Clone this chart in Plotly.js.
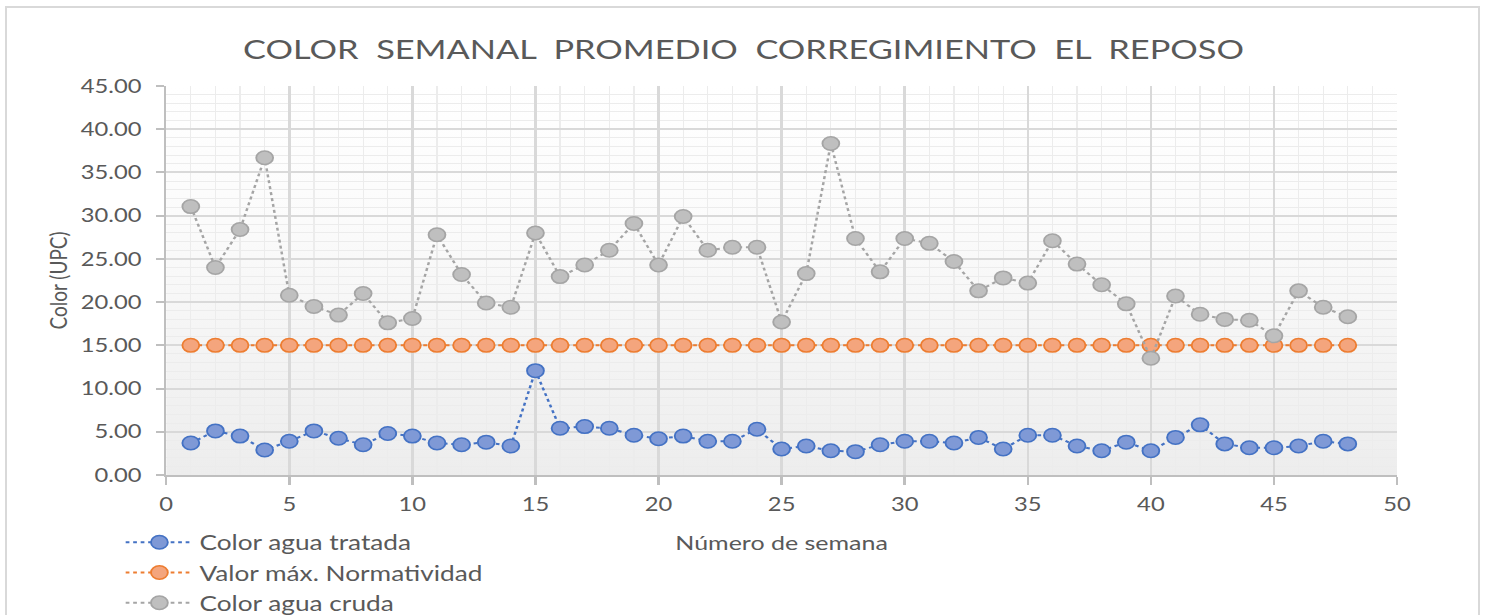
<!DOCTYPE html>
<html>
<head>
<meta charset="utf-8">
<script src="https://cdn.plot.ly/plotly-3.0.1.min.js"></script>
<style>
  html, body { margin: 0; padding: 0; background: #ffffff; }
  #wrap { position: relative; width: 1487px; height: 615px; overflow: hidden; }
  #chart { width: 1190px; height: 615px; transform: scale(1.2496, 1); transform-origin: 0 0; }
  #frame { position: absolute; left: 5px; top: 6px; width: 1475px; height: 640px;
           border: 2px solid #d9d9d9; pointer-events: none; box-sizing: border-box; }
</style>
</head>
<body>
<div id="wrap">
  <div id="chart"></div>
  <div id="frame"></div>
</div>
<script>
const semanas = [1,2,3,4,5,6,7,8,9,10,11,12,13,14,15,16,17,18,19,20,21,22,23,24,25,26,27,28,29,30,31,32,33,34,35,36,37,38,39,40,41,42,43,44,45,46,47,48];

const colorTratada = [3.7,5.1,4.5,2.9,3.9,5.1,4.25,3.5,4.8,4.5,3.7,3.5,3.8,3.35,12.07,
  5.4,5.6,5.4,4.6,4.2,4.5,3.9,3.9,5.3,3.0,3.35,2.8,2.7,3.5,3.9,3.9,3.7,
  4.35,3.0,4.6,4.6,3.35,2.8,3.8,2.8,4.35,5.8,3.6,3.15,3.15,3.35,3.9,3.6];

const valorMax = [15,15,15,15,15,15,15,15,15,15,15,15,15,15,15,15,15,15,15,15,15,15,15,15,
  15,15,15,15,15,15,15,15,15,15,15,15,15,15,15,15,15,15,15,15,15,15,15,15];

const colorCruda = [31.05,24.0,28.4,36.7,20.8,19.5,18.5,21.0,17.6,18.1,27.8,23.2,19.9,19.4,28.0,
  22.95,24.3,26.0,29.1,24.3,29.9,26.0,26.35,26.35,17.7,23.3,38.35,27.35,23.5,27.35,26.8,24.7,
  21.3,22.8,22.2,27.1,24.4,22.0,19.8,13.5,20.7,18.6,18.0,17.9,16.1,21.3,19.4,18.3];

const nombres = ["Color agua tratada", "Valor m\u00e1x. Normatividad", "Color agua cruda"];
const xTicks = [0,5,10,15,20,25,30,35,40,45,50];
const yTicks = [0,5,10,15,20,25,30,35,40,45];
const yTickText = yTicks.map(v => v.toFixed(2));

const FONT = "Lato, sans-serif";
const TXT = "#595959";

function serie(y, name, line, fill, edge) {
  return {
    x: semanas, y: y, name: name, type: "scatter", mode: "lines+markers",
    line: { color: line, width: 2, dash: "dot" },
    marker: { size: 13.5, color: fill, line: { color: edge, width: 1.5 } },
    cliponaxis: false
  };
}

const traces = [
  serie(colorTratada, nombres[0], "#4472c4", "#7f99d6", "#4472c4"),
  serie(valorMax, nombres[1], "#ed7d31", "#f4a57d", "#ed7d31"),
  serie(colorCruda, nombres[2], "#a5a5a5", "#bfbfbf", "#a5a5a5")
];

const gradSvg = '<svg xmlns="http://www.w3.org/2000/svg" width="10" height="100" preserveAspectRatio="none">' +
  '<defs><linearGradient id="g" x1="0" y1="0" x2="0" y2="1">' +
  '<stop offset="0" stop-color="#ffffff"/><stop offset="0.35" stop-color="#fbfbfb"/><stop offset="1" stop-color="#ededed"/>' +
  '</linearGradient></defs><rect width="10" height="100" fill="url(#g)"/></svg>';
const gradUri = "data:image/svg+xml;base64," + btoa(gradSvg);

const sp = "\u00a0\u00a0";
const layout = {
  width: 1190, height: 615,
  margin: { l: 133, r: 72, t: 86, b: 140, autoexpand: false },
  paper_bgcolor: "rgba(0,0,0,0)",
  plot_bgcolor: "rgba(0,0,0,0)",
  font: { family: FONT, color: TXT },
  title: {
    text: ["COLOR","SEMANAL","PROMEDIO","CORREGIMIENTO","EL","REPOSO"].join(sp),
    font: { family: FONT, size: 27.5, color: TXT },
    x: 0.5, xanchor: "center", y: 0.919, yanchor: "middle", xref: "container"
  },
  xaxis: {
    range: [0, 50], tickvals: xTicks, ticktext: xTicks.map(String),
    showgrid: true, gridcolor: "#d9d9d9", gridwidth: 2,
    minor: { dtick: 1, tick0: 0, showgrid: true, gridcolor: "#ececec", gridwidth: 1 },
    showline: true, linecolor: "#bfbfbf", linewidth: 2,
    ticks: "outside", ticklen: 8, tickcolor: "#bfbfbf", tickwidth: 2,
    tickfont: { family: FONT, size: 19, color: TXT },
    ticklabelstandoff: 3,
    zeroline: false,
    title: { text: "N\u00famero de semana", font: { family: FONT, size: 20, color: TXT }, standoff: 22 }
  },
  yaxis: {
    range: [0, 45], tickvals: yTicks, ticktext: yTickText,
    showgrid: true, gridcolor: "#d9d9d9", gridwidth: 2,
    minor: { dtick: 1, tick0: 0, showgrid: true, gridcolor: "#ececec", gridwidth: 1 },
    showline: true, linecolor: "#bfbfbf", linewidth: 2,
    ticks: "outside", ticklen: 6, tickcolor: "#bfbfbf", tickwidth: 2,
    tickfont: { family: FONT, size: 19, color: TXT },
    ticklabelstandoff: 8,
    zeroline: false,
    title: { text: "Color (UPC)", font: { family: FONT, size: 19, color: TXT }, standoff: 5 }
  },
  legend: {
    x: -0.038, xanchor: "left", y: -0.121, yanchor: "top",
    orientation: "v", bgcolor: "rgba(0,0,0,0)",
    font: { family: FONT, size: 21, color: TXT },
    tracegroupgap: 0, itemwidth: 54
  },
  images: [{
    source: gradUri, xref: "paper", yref: "paper", x: 0, y: 1, sizex: 1, sizey: 1,
    sizing: "stretch", xanchor: "left", yanchor: "top", layer: "below"
  }],
  showlegend: true
};

Plotly.newPlot("chart", traces, layout, { displayModeBar: false, staticPlot: true });
</script>
</body>
</html>
